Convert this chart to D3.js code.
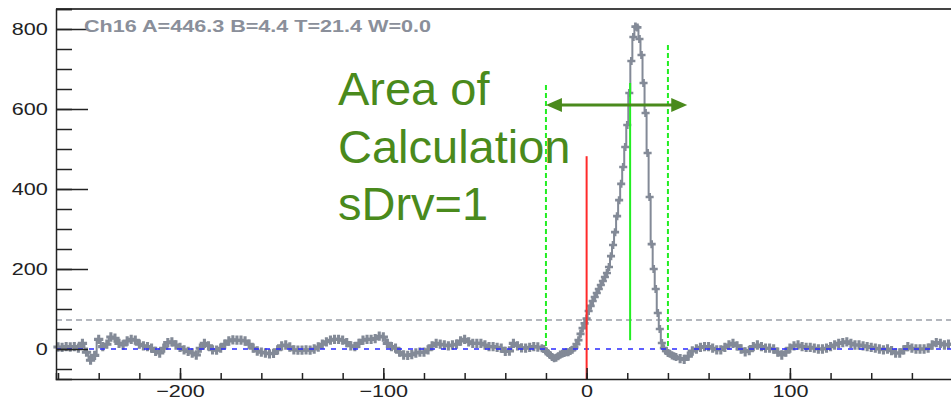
<!DOCTYPE html>
<meta charset="utf-8">
<html>
<head>
  <script src="https://d3js.org/d3.v7.min.js"></script>
  <style>
    body { margin: 0; background: #fff; }
    .axis text { font-family: 'Liberation Sans', Arial, sans-serif; font-size: 17px; fill: #222; }
    .axis path { stroke: #222; stroke-width: 1.5; }
    .axis line { stroke: #222; stroke-width: 1.5; }
  </style>
</head>
<body>
  <script>
    // waveform samples (ADC counts vs time)
    var leftStart = -260, leftStep = 2;
    var leftBase = [5, 4, 6, 5, 6, 2, 14, -8, -28, -16, 24, 6, 12, 30, 27, 14, 10, 20, 24, 22,
      12, 8, 6, 2, -6, -10, 2, 16, 18, 10, 4, -2, -6, -10, -15, 2, 14, 8, -2, -3,
      2, 12, 20, 23, 22, 22, 20, 12, 2, -5, -8, -10, -12, -11, -2, 8, 10, 5, -2, -3,
      -3, -2, -3, 0, 5, 12, 18, 22, 24, 24, 22, 16, 8, 6, 14, 22, 24, 24, 26, 32,
      30, 14, 6, 2, -8, -15, -16, -14, -10, -8, -8, -2, 8, 14, 12, 10, 8, 10, 12, 20,
      24, 18, 14, 14, 14, 10, 6, 6, 4, 2, -6, -5, 14, 8, 3, 2, 4, 6, 5];

    var pulseStart = -22, pulseStep = 1;
    var pulse = [2, 0, -6, -10, -15, -20, -23, -22, -18, -14, -12, -10, -8, -8, -5, -2, 4, 12, 22, 38,
      52, 64, 76, 95, 108, 120, 130, 140, 150, 160, 170, 180, 190, 205, 232, 260, 292, 332, 372, 413,
      455, 505, 560, 640, 720, 780, 806, 804, 775, 735, 665, 590, 490, 380, 262, 200, 150, 90, 50, 15,
      2, -5, -10, -12, -16, -18, -20];

    var rightStart = 46, rightStep = 2;
    var rightBase = [-24, -26, -18, -5, 0, 4, 6, 6, 2, -2, -2, 4, 10, 14, 8, 0, -7, -4, 6, 10,
      6, 2, 2, 0, -8, -15, -8, 2, 8, 10, 6, 4, 4, 2, 0, 0, 2, 6, 10, 14,
      16, 18, 14, 10, 10, 8, 6, 4, 2, 0, -2, 0, -4, -10, -10, -2, 6, 2, 0, 0,
      0, 2, 10, 16, 14, 10, 12, 12, 14];

    var title = "Ch16 A=446.3 B=4.4 T=21.4 W=0.0";
    var xMajor = [-200, -100, 0, 100];
    var yMajor = [0, 200, 400, 600, 800];

    // markers
    var threshold = 72.5;      // grey dashed level
    var tMark = 21.4;          // solid green (T)
    var tMarkTop = 665, tMarkBottom = 22;
    var startMark = 0;         // red line
    var startMarkTop = 482;
    var winLeft = -20, winLeftTop = 660;
    var winRight = 40, winRightTop = 760;
    var winBottom = 2;
    var arrowFrom = -20, arrowTo = 49.5, arrowLevel = 610;
    var noteLines = ["Area of", "Calculation", "sDrv=1"];

    var data = [];
    leftBase.forEach((v, i) => data.push({ t: leftStart + i * leftStep, v: v }));
    pulse.forEach((v, i) => data.push({ t: pulseStart + i * pulseStep, v: v }));
    rightBase.forEach((v, i) => data.push({ t: rightStart + i * rightStep, v: v }));

    var W = 951, H = 402;
    var svg = d3.select("body").append("svg")
      .attr("width", W).attr("height", H);

    var x = d3.scaleLinear().domain([-261, 190]).range([56, 56 + 451 * 2.033]);
    var y = d3.scaleLinear().domain([-75, 850]).range([379, 9]);

    var stretch = "scale(1.27,1)";
    var grey = "#838a97";

    // frame
    svg.append("line").attr("x1", x(-261)).attr("x2", W).attr("y1", y(850)).attr("y2", y(850))
      .attr("stroke", "#444").attr("stroke-width", 2);

    // reference lines
    svg.append("line")
      .attr("x1", x(-261)).attr("x2", W).attr("y1", y(threshold)).attr("y2", y(threshold))
      .attr("stroke", "#9a9ea8").attr("stroke-width", 1.5).attr("stroke-dasharray", "6,4");

    // waveform
    var line = d3.line().x(d => x(d.t)).y(d => y(d.v)).curve(d3.curveStep);
    svg.append("path").datum(data)
      .attr("d", line).attr("fill", "none")
      .attr("stroke", grey).attr("stroke-width", 2);

    svg.selectAll(".pt").data(data).enter().append("path")
      .attr("class", "pt")
      .attr("transform", d => `translate(${x(d.t)},${y(d.v)})`)
      .attr("d", d3.symbol().type(d3.symbolCross).size(d => d.t < pulseStart || d.t >= rightStart ? 48 : 36))
      .attr("fill", grey);

    // baseline at zero
    svg.append("line")
      .attr("x1", x(-261)).attr("x2", W).attr("y1", y(0)).attr("y2", y(0))
      .attr("stroke", "#2b2bff").attr("stroke-width", 1.3).attr("stroke-dasharray", "5,6");

    // integration window
    [[winLeft, winLeftTop], [winRight, winRightTop]].forEach(function (w) {
      svg.append("line")
        .attr("x1", x(w[0])).attr("x2", x(w[0]))
        .attr("y1", y(w[1])).attr("y2", y(winBottom))
        .attr("stroke", "#22ee22").attr("stroke-width", 2).attr("stroke-dasharray", "5,3");
    });

    svg.append("line")
      .attr("x1", x(tMark)).attr("x2", x(tMark))
      .attr("y1", y(tMarkTop)).attr("y2", y(tMarkBottom))
      .attr("stroke", "#22ee22").attr("stroke-width", 2);

    svg.append("line")
      .attr("x1", x(startMark)).attr("x2", x(startMark))
      .attr("y1", y(startMarkTop)).attr("y2", y(-75))
      .attr("stroke", "#ff2a2a").attr("stroke-width", 2);

    // axes
    svg.append("g").attr("class", "axis")
      .attr("transform", `translate(${x(-261)},0)`)
      .call(d3.axisLeft(y).tickValues(d3.range(-50, 851, 50)).tickSize(-16).tickFormat(""));
    var ya = svg.append("g").attr("class", "axis")
      .attr("transform", `translate(${x(-261)},0)`)
      .call(d3.axisLeft(y).tickValues(yMajor).tickSize(-32).tickPadding(6.5).tickFormat(d3.format("d")));
    ya.select(".domain").remove();
    ya.selectAll("text").attr("transform", stretch);

    svg.append("g").attr("class", "axis")
      .attr("transform", `translate(0,${y(-75)})`)
      .call(d3.axisBottom(x).tickValues(d3.range(-260, 190, 20)).tickSize(-6).tickFormat(""));
    var xa = svg.append("g").attr("class", "axis")
      .attr("transform", `translate(0,${y(-75)})`)
      .call(d3.axisBottom(x).tickValues(xMajor).tickSize(-11).tickPadding(6).tickFormat(d3.format("d")));
    xa.select(".domain").remove();
    xa.selectAll("text").attr("transform", stretch);

    // title
    svg.append("text")
      .attr("transform", `translate(84,31.5) ${stretch}`)
      .attr("font-family", "'Liberation Sans', Arial, sans-serif")
      .attr("font-weight", "bold").attr("font-size", 17)
      .attr("fill", "#8a8f9a")
      .text(title);

    // annotation arrow
    var ac = "#4a8a1c";
    svg.append("line")
      .attr("x1", x(arrowFrom) + 10).attr("x2", x(arrowTo) - 10)
      .attr("y1", y(arrowLevel)).attr("y2", y(arrowLevel))
      .attr("stroke", ac).attr("stroke-width", 3);
    [[arrowFrom, 1], [arrowTo, -1]].forEach(function (a) {
      var tx = x(a[0]), ty = y(arrowLevel), s = a[1];
      svg.append("path")
        .attr("d", `M${tx},${ty} L${tx + s * 16},${ty - 7} L${tx + s * 16},${ty + 7} Z`)
        .attr("fill", ac);
    });

    svg.append("g").selectAll("text").data(noteLines).enter().append("text")
      .attr("x", x(-122.3))
      .attr("y", (d, i) => y(arrowLevel) + i * 57.5)
      .attr("font-family", "'Liberation Sans', Arial, sans-serif")
      .attr("font-size", 47)
      .attr("fill", ac)
      .text(d => d);
  </script>
</body>
</html>
